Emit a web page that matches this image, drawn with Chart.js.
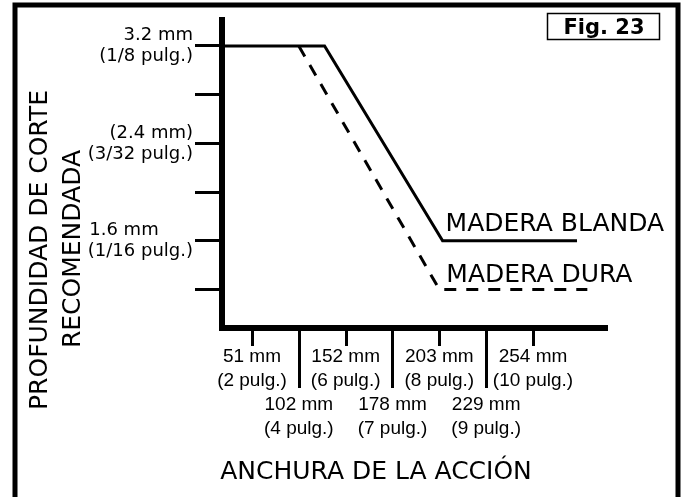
<!DOCTYPE html>
<html>
<head>
<meta charset="utf-8">
<title>Fig. 23</title>
<script src="https://cdn.jsdelivr.net/npm/chart.js@4.4.1/dist/chart.umd.min.js"></script>
<style>
  html, body { margin: 0; padding: 0; background: #fff; overflow: hidden; }
  #wrap { width: 683px; height: 497px; }
</style>
</head>
<body>
<div id="wrap"><canvas id="fig23" width="683" height="497"></canvas></div>
<script>
(function() {
  'use strict';

  // x: one slot per width label (0 = 51 mm ... 6 = 254 mm), as drawn on the sheet
  var widthSlots = [0, 1, 2, 3, 4, 5, 6];
  var widthMm = ['51 mm', '102 mm', '152 mm', '178 mm', '203 mm', '229 mm', '254 mm'];
  var widthIn = ['(2 pulg.)', '(4 pulg.)', '(6 pulg.)', '(7 pulg.)', '(8 pulg.)', '(9 pulg.)', '(10 pulg.)'];

  // y: cut depth in 1/64 inch
  var depthTicks = [3, 4, 5, 6, 7, 8];
  var depthMm = { 8: '3.2 mm', 6: '(2.4 mm)', 4: '1.6 mm      ' };
  var depthIn = { 8: '(1/8 pulg.)', 6: '(3/32 pulg.)', 4: '(1/16 pulg.)' };

  var blandaX = [-0.64, 1.55, 4.07, 6.94];
  var blandaY = [8, 8, 4, 4];
  var duraX = [1, 4, 7.16];
  var duraY = [8, 3, 3];

  function points(xs, ys) {
    return xs.map(function(x, i) { return { x: x, y: ys[i] }; });
  }

  var figureDecor = {
    id: 'figureDecor',
    beforeDraw: function(chart) {
      var ctx = chart.ctx;
      ctx.save();
      ctx.fillStyle = '#fff';
      ctx.fillRect(0, 0, chart.width, chart.height);
      ctx.restore();
    },
    afterDraw: function(chart) {
      var ctx = chart.ctx;
      var area = chart.chartArea;
      var xs = chart.scales.x;
      ctx.save();
      ctx.strokeStyle = '#000';
      ctx.fillStyle = '#000';

      // frame (open at the bottom)
      ctx.lineWidth = 5;
      ctx.beginPath();
      ctx.moveTo(15, chart.height + 10);
      ctx.lineTo(15, 5);
      ctx.lineTo(678, 5);
      ctx.lineTo(678, chart.height + 10);
      ctx.stroke();

      // x tick marks: short / long alternating
      ctx.lineWidth = 3;
      xs.ticks.forEach(function(t, i) {
        var px = Math.round(xs.getPixelForValue(t.value)) + 0.5;
        ctx.beginPath();
        ctx.moveTo(px, area.bottom + 3);
        ctx.lineTo(px, area.bottom + (i % 2 ? 60 : 18));
        ctx.stroke();
      });

      // series labels next to the bends
      ctx.font = '25px "DejaVu Sans"';
      ctx.textAlign = 'left';
      ctx.textBaseline = 'alphabetic';
      var pB = chart.getDatasetMeta(0).data[2];
      ctx.fillText('MADERA BLANDA', pB.x + 3, pB.y - 10);
      var pD = chart.getDatasetMeta(1).data[1];
      ctx.fillText('MADERA DURA', pD.x + 7, pD.y - 7);

      // axis titles
      ctx.textAlign = 'center';
      ctx.fillText('ANCHURA DE LA ACCIÓN', 376, 479);
      ctx.save();
      ctx.translate(47, 250);
      ctx.rotate(-Math.PI / 2);
      ctx.fillText('PROFUNDIDAD DE CORTE', 0, 0);
      ctx.restore();
      ctx.save();
      ctx.translate(80, 249);
      ctx.rotate(-Math.PI / 2);
      ctx.fillText('RECOMENDADA', 0, 0);
      ctx.restore();

      // figure tag
      ctx.lineWidth = 1.5;
      ctx.strokeRect(547.5, 13.5, 112, 26);
      ctx.font = 'bold 21px "DejaVu Sans"';
      ctx.fillText('Fig. 23', 604, 34);
      ctx.restore();
    }
  };

  function noPadding(scale) {
    scale.paddingTop = 0;
    scale.paddingBottom = 0;
    scale.paddingLeft = 0;
    scale.paddingRight = 0;
  }

  new Chart(document.getElementById('fig23'), {
    type: 'scatter',
    data: {
      datasets: [
        {
          label: 'MADERA BLANDA',
          data: points(blandaX, blandaY),
          showLine: true,
          borderColor: '#000',
          borderWidth: 3,
          pointRadius: 0,
          tension: 0,
          fill: false
        },
        {
          label: 'MADERA DURA',
          data: points(duraX, duraY),
          showLine: true,
          borderColor: '#000',
          borderWidth: 3,
          borderDash: [12, 10],
          pointRadius: 0,
          tension: 0,
          fill: false
        }
      ]
    },
    options: {
      responsive: false,
      animation: false,
      devicePixelRatio: 1,
      layout: { padding: { top: 20, right: 76, bottom: 0, left: 0 } },
      plugins: {
        legend: { display: false },
        tooltip: { enabled: false },
        title: { display: false }
      },
      scales: {
        x: {
          type: 'linear',
          min: -0.64,
          max: 7.58,
          afterBuildTicks: function(scale) {
            scale.ticks = widthSlots.map(function(v) { return { value: v }; });
          },
          afterFit: function(scale) {
            scale.height = 169;
            noPadding(scale);
          },
          grid: { display: true, drawOnChartArea: false, drawTicks: false },
          border: { display: true, color: '#000', width: 6 },
          ticks: {
            autoSkip: false,
            maxRotation: 0,
            minRotation: 0,
            padding: 17,
            color: '#000',
            font: { family: '"Liberation Sans"', size: 19, lineHeight: '24px' },
            callback: function(value, i) {
              return i % 2 ? ['', '', widthMm[i], widthIn[i]] : [widthMm[i], widthIn[i]];
            }
          }
        },
        y: {
          type: 'linear',
          min: 2.207,
          max: 8.534,
          afterBuildTicks: function(scale) {
            scale.ticks = depthTicks.map(function(v) { return { value: v }; });
          },
          afterFit: function(scale) {
            scale.width = 222;
            noPadding(scale);
          },
          grid: {
            display: true,
            drawOnChartArea: false,
            drawTicks: true,
            tickLength: 27,
            tickWidth: 3,
            tickColor: '#000'
          },
          border: { display: true, color: '#000', width: 6 },
          ticks: {
            padding: 2,
            color: '#000',
            font: { family: '"DejaVu Sans"', size: 18, lineHeight: '21px' },
            callback: function(value) {
              return depthMm[value] ? [depthMm[value], depthIn[value]] : '';
            }
          }
        }
      }
    },
    plugins: [figureDecor]
  });
})();
</script>
</body>
</html>
